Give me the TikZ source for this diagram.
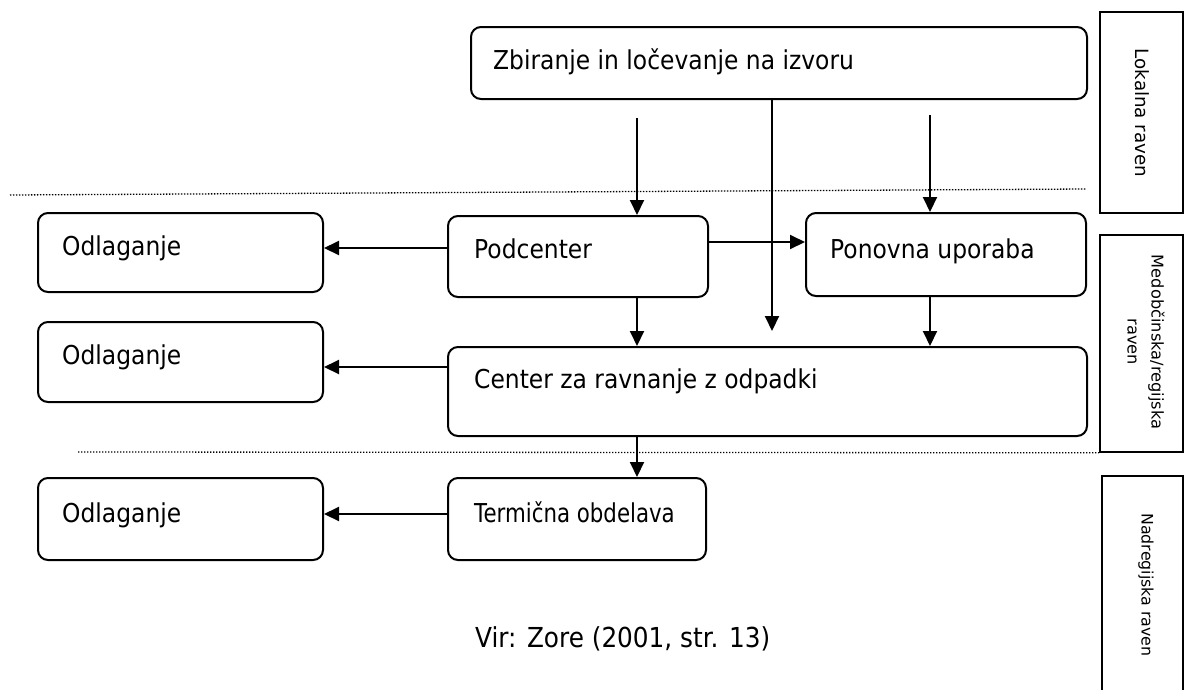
\documentclass[tikz,border=0pt]{standalone}
\usepackage{fontspec}
\setmainfont{DejaVu Sans}[FakeStretch=0.9]
\newfontfamily\lblfont{DejaVu Sans}
\newfontfamily\narrowfont{DejaVu Sans}[FakeStretch=0.82]
\usetikzlibrary{arrows.meta}
\begin{document}
\begin{tikzpicture}[x=1pt,y=-1pt,
  box/.style={draw,line width=2pt,rounded corners=10pt,inner sep=0pt},
  lvl/.style={draw,line width=1.6pt,inner sep=0pt},
  txt/.style={anchor=base west,inner sep=0pt,font=\fontsize{26}{30}\selectfont},
  lvltxt/.style={rotate=-90,align=center,inner sep=0pt},
  arr/.style={line width=2pt,-{Triangle[length=15pt,width=14pt]}},
  dots/.style={line width=1.3pt,dash pattern=on 1.3pt off 1.7pt}]
\useasboundingbox (0,0) rectangle (1184,689);
% boxes
\node[box,minimum width=616pt,minimum height=72pt] (top) at (779,63) {};
\node[box,minimum width=285pt,minimum height=79pt] (odl1) at (180.5,252.5) {};
\node[box,minimum width=260pt,minimum height=81pt] (podc) at (578,256.5) {};
\node[box,minimum width=280pt,minimum height=83pt] (pon) at (946,254.5) {};
\node[box,minimum width=639pt,minimum height=89pt] (cen) at (767.5,391.5) {};
\node[box,minimum width=285pt,minimum height=80pt] (odl2) at (180.5,362) {};
\node[box,minimum width=258pt,minimum height=82pt] (term) at (577,519) {};
\node[box,minimum width=285pt,minimum height=82pt] (odl3) at (180.5,519) {};
% texts
\node[txt] (ttop) at (493,69) {Zbiranje in ločevanje na izvoru};
\node[txt] (todl1) at (62,255) {Odlaganje};
\node[txt] (tpodc) at (474,258) {Podcenter};
\node[txt] (tpon) at (830,258) {Ponovna uporaba};
\node[txt] (tcen) at (474,388) {Center za ravnanje z odpadki};
\node[txt] (todl2) at (62,364) {Odlaganje};
\node[txt,font=\narrowfont\fontsize{26}{30}\selectfont] (tterm) at (474,522) {Termična obdelava};
\node[txt] (todl3) at (62,522) {Odlaganje};
\node[txt,font=\fontsize{27.5}{30}\selectfont] (vir) at (475,647) {Vir: Zore (2001, str. 13)};
% level boxes
\node[lvl,minimum width=83pt,minimum height=201pt] (l1) at (1141.5,112.5) {};
\node[lvl,minimum width=83pt,minimum height=217pt] (l2) at (1141.5,343.5) {};
\node[lvl,minimum width=81pt,minimum height=216pt] (l3) at (1142.5,584) {};
\node[lvltxt,font=\lblfont\fontsize{18.3}{22}\selectfont] (t1) at (1142,113) {Lokalna raven};
\node[lvltxt,font=\lblfont\fontsize{16.2}{24}\selectfont] (t2) at (1146,342) {Medobčinska/regijska\\raven};
\node[lvltxt,font=\lblfont\fontsize{15.8}{20}\selectfont] (t3) at (1146,585) {Nadregijska raven};
% dotted lines
\coordinate (d1a) at (10,195);
\coordinate (d1b) at (1086,189);
\draw[dots] (d1a) -- (d1b);
\coordinate (d2a) at (78,452);
\draw[dots] (d2a) -- (l2.south west);
% arrows
\coordinate (s1) at (637,118);
\coordinate (s3) at (930,115);
\coordinate (mid) at (772,331);
\draw[arr] (s1) -- (podc.north -| s1);
\draw[arr] (s3) -- (pon.north -| s3);
\draw[arr] (top.south -| mid) -- (mid);
\draw[arr] (podc.west |- 0,248) -- (odl1.east |- 0,248);
\draw[arr] (podc.east |- 0,242) -- (pon.west |- 0,242);
\draw[arr] (podc.south -| s1) -- (cen.north -| s1);
\draw[arr] (pon.south -| s3) -- (cen.north -| s3);
\draw[arr] (cen.west |- 0,367) -- (odl2.east |- 0,367);
\draw[arr] (cen.south -| s1) -- (term.north -| s1);
\draw[arr] (term.west |- 0,514) -- (odl3.east |- 0,514);
\end{tikzpicture}
\end{document}
